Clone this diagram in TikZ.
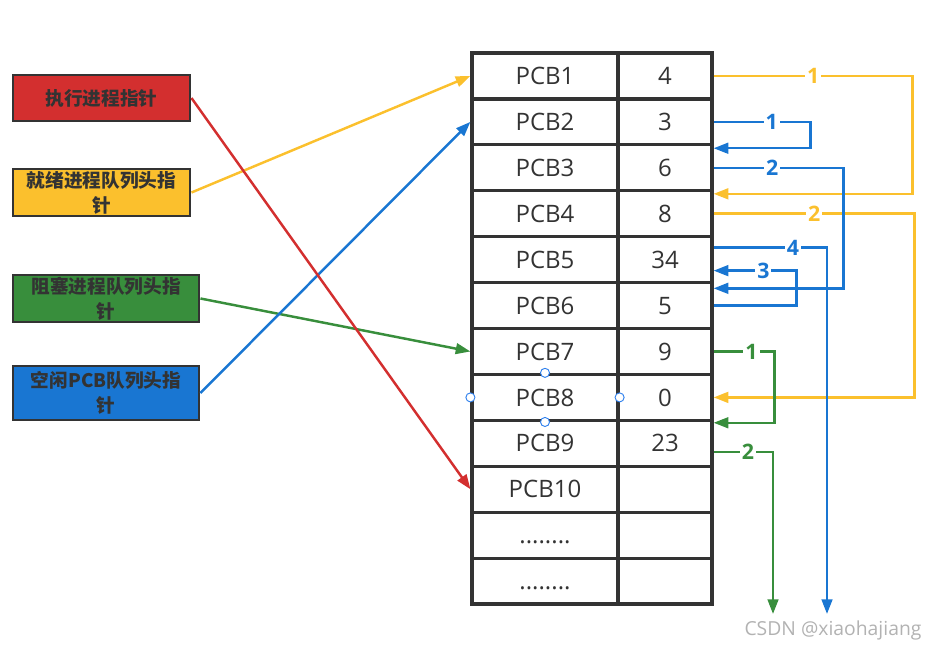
\documentclass[tikz,border=0pt]{standalone}
\usepackage{fontspec}
\usepackage{tikz}
\usetikzlibrary{arrows.meta}
\setmainfont{Open Sans}
\newfontfamily\cjkfont{Noto Sans CJK SC}

\definecolor{inkgray}{HTML}{333333}
\definecolor{ptrred}{HTML}{D32F2F}
\definecolor{ptryellow}{HTML}{FBC02D}
\definecolor{ptrgreen}{HTML}{388E3C}
\definecolor{ptrblue}{HTML}{1976D2}
\definecolor{handleblue}{HTML}{2F80ED}

\tikzset{
  cell/.style={draw=inkgray, line width=2.4pt, inner sep=0pt, minimum height=34.44pt,
    text=inkgray, font=\fontsize{18}{20}\selectfont, text height=12.9pt, text depth=0pt},
  namecell/.style={cell, minimum width=109.5pt},
  valcell/.style={cell, minimum width=70.5pt},
  ptrbox/.style={draw=inkgray, line width=2.2pt, inner sep=0pt, align=center, text=inkgray,
    font=\cjkfont\bfseries\fontsize{14}{18.75}\selectfont},
  link/.style={line width=1.85pt, -{Triangle[length=11pt,width=8pt]}},
  lbl/.style={fill=white, inner sep=1.5pt, font=\bfseries\fontsize{16}{16}\selectfont},
  handle/.style={draw=handleblue, fill=white, line width=0.7pt}
}

\begin{document}
\begin{tikzpicture}[x=0.75pt,y=-0.75pt]
\useasboundingbox (0,0) rectangle (936,650);

% PCB table
\foreach \nm/\val [count=\i] in {PCB1/4,PCB2/3,PCB3/6,PCB4/8,PCB5/34,PCB6/5,PCB7/9,PCB8/0,PCB9/23,PCB10/{},{........}/{},{........}/{}}{
  \node[namecell] (n\i) at (545, 53+\i*45.92-22.96) {\nm};
  \node[valcell] (v\i) at (665, 53+\i*45.92-22.96) {\val};
}

% Pointer boxes
\node[ptrbox, fill=ptrred, minimum width=132.75pt, minimum height=34.5pt] (runptr) at (101.5,98) {执行进程指针};
\node[ptrbox, fill=ptryellow, minimum width=132.75pt, minimum height=35.25pt] (readyptr) at (101.5,192.5) {就绪进程队列头指\\针};
\node[ptrbox, fill=ptrgreen, minimum width=139.5pt, minimum height=35.25pt] (blockptr) at (106,298.5) {阻塞进程队列头指\\针};
\node[ptrbox, fill=ptrblue, minimum width=139.5pt, minimum height=40.5pt] (freeptr) at (106,393) {空闲PCB队列头指\\针};

% Pointer arrows
\draw[link, ptryellow] (readyptr.east) -- (n1.west);
\draw[link, ptrgreen] (blockptr.east) -- (n7.west);
\draw[link, ptrblue] (freeptr.east) -- (n2.west);
\draw[link, ptrred] (runptr.east) -- (n10.west);

% Ready queue
\draw[link, ptryellow] (v1.east) -- node[lbl]{1} ++(199,0) |- ([yshift=-3.5pt]v4.north east);
\draw[link, ptryellow] (v4.east) -- node[lbl]{2} ++(201,0) |- (v8.east);

% Free queue
\coordinate (freeend) at (827,614);
\draw[link, ptrblue] (v2.east) -- node[lbl, pos=0.6]{1} ++(97,0) |- ([yshift=-3.75pt]v3.north east);
\draw[link, ptrblue] (v3.east) -- node[lbl, pos=0.45]{2} ++(130,0) |- ([yshift=-5.5pt]v6.north east);
\draw[link, ptrblue] (v6.east) -- ++(83,0) |- node[lbl, pos=0.7]{3} ([yshift=-8.25pt]v5.east);
\draw[link, ptrblue] ([yshift=9pt]v5.east) -| node[lbl, pos=0.35]{4} (freeend);

% Blocked queue
\coordinate (blockend) at (773,614);
\draw[link, ptrgreen] (v7.east) -- node[lbl, pos=0.62]{1} ++(61,0) |- ([yshift=-3pt]v9.north east);
\draw[link, ptrgreen] ([yshift=-6.5pt]v9.east) -| node[lbl, pos=0.29]{2} (blockend);

% Selection handles
\foreach \a in {north,south,east,west}
  \draw[handle] (n8.\a) circle (3.4pt);

% Watermark
\node[text=gray!60, font=\fontsize{14.5}{14.5}\selectfont] (mark) at (833,630) {CSDN @xiaohajiang};
\end{tikzpicture}
\end{document}
